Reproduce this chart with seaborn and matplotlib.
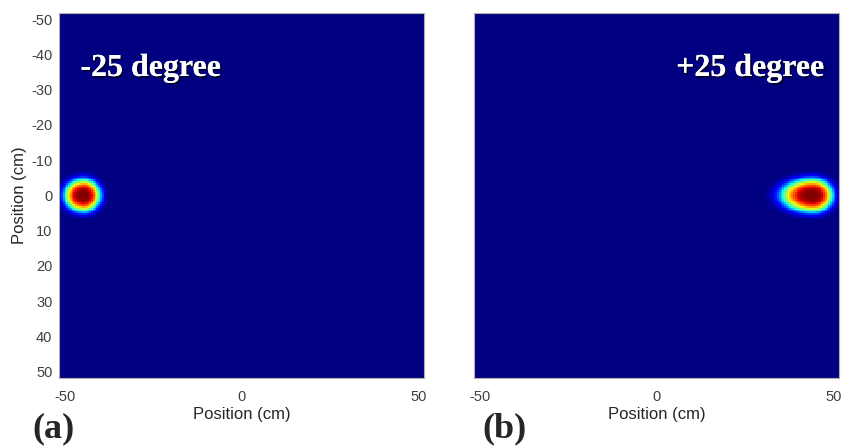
import numpy as np
import pandas as pd
import seaborn as sns
import matplotlib
matplotlib.use("Agg")
import matplotlib.pyplot as plt
import matplotlib.patheffects as pe

# ---- data ----
extent_cm = 51.65                       # half-width of the imaged field
n_cells = 206
positions_cm = np.linspace(-extent_cm, extent_cm, n_cells + 1)[:-1] + extent_cm / n_cells
y_tick_values = [-50, -40, -30, -20, -10, 0, 10, 20, 30, 40, 50]
x_tick_values = [-50, 0, 50]
panel_labels = ["(a)", "(b)"]
angle_labels = ["-25 degree", "+25 degree"]
spot_center_x = [-44.8, 44.3]      # cm
spot_center_y = [0.0, 0.0]         # cm
spot_width_left = [5.3, 8.8]       # cm (toward -x)
spot_width_right = [4.7, 5.5]      # cm (toward +x)
spot_width_y = [4.5, 4.6]          # cm
spot_order = 3.5                   # super-Gaussian order


def spot_field(i):
    X, Y = np.meshgrid(positions_cm, positions_cm)
    dx = X - spot_center_x[i]
    wx = np.where(dx < 0, spot_width_left[i], spot_width_right[i])
    dy = Y - spot_center_y[i]
    r = np.sqrt((dx / wx) ** 2 + (dy / spot_width_y[i]) ** 2)
    f = np.exp(-r ** spot_order)
    return pd.DataFrame(f, index=positions_cm, columns=positions_cm)


sns.set_style("white")
plt.rcParams["font.family"] = ["Liberation Sans", "DejaVu Sans"]

fig = plt.figure(figsize=(8.43, 4.48), dpi=100)
ax_w = 364.7 / 843
ax_h = 364.2 / 448
ax_bottom = 1 - 377.5 / 448
axes = [fig.add_axes([59.3 / 843, ax_bottom, ax_w, ax_h]),
        fig.add_axes([474.3 / 843, ax_bottom, ax_w, ax_h])]

n = len(positions_cm)


def to_cell(v):
    return (np.asarray(v, dtype=float) + extent_cm) / (2 * extent_cm) * n


tick_color = "#404040"
serif = ["Liberation Serif", "DejaVu Serif"]
for i, ax in enumerate(axes):
    sns.heatmap(spot_field(i), ax=ax, cmap="jet", vmin=0, vmax=1, cbar=False,
                xticklabels=False, yticklabels=False, rasterized=True)
    ax.set_xlim(0, n)
    ax.set_ylim(n, 0)
    ax.set_xticks(to_cell(x_tick_values))
    ax.set_xticklabels([str(v) for v in x_tick_values])
    ax.set_yticks(to_cell(y_tick_values))
    if i == 0:
        ax.set_yticklabels([str(v) for v in y_tick_values])
        ax.set_ylabel("Position (cm)", fontsize=12, color="#262626", labelpad=3)
    else:
        ax.set_yticklabels([])
        ax.set_ylabel("")
    ax.set_xlabel("Position (cm)", fontsize=12, color="#262626", labelpad=2)
    ax.tick_params(axis="x", direction="in", length=3, width=0.6, color="#808080",
                   labelsize=10.5, labelcolor=tick_color, pad=9, top=True, bottom=True)
    ax.tick_params(axis="y", direction="in", length=3, width=0.6, color="#808080",
                   labelsize=10.5, labelcolor=tick_color, pad=5, left=True, right=True)
    for s in ax.spines.values():
        s.set_visible(True)
        s.set_color("#b0b0b0")
        s.set_linewidth(0.8)

    shadow = [pe.withSimplePatchShadow(offset=(1.2, -1.2), shadow_rgbFace="black", alpha=0.7),
              pe.Normal()]
    if i == 0:
        ax.text(0.058, 0.828, angle_labels[i], transform=ax.transAxes, ha="left",
                va="baseline", color="white", fontsize=23, fontweight="bold",
                family=serif, path_effects=shadow)
    else:
        ax.text(0.96, 0.828, angle_labels[i], transform=ax.transAxes, ha="right",
                va="baseline", color="white", fontsize=23, fontweight="bold",
                family=serif, path_effects=shadow)

fig.text(54 / 843, 1 - 429 / 448, panel_labels[0], ha="center", va="center",
         fontsize=26, fontweight="bold", family=serif)
fig.text(505 / 843, 1 - 429 / 448, panel_labels[1], ha="center", va="center",
         fontsize=26, fontweight="bold", family=serif)

fig.savefig("out.png", dpi=100)
